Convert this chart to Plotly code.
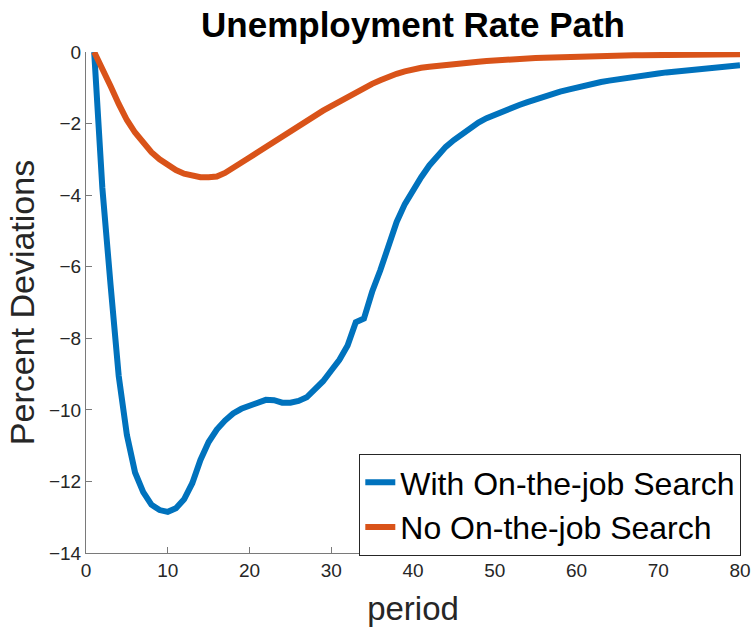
import plotly.graph_objects as go

period = list(range(1, 81))

with_ojs = [0.0, -3.8, -6.5, -9.05, -10.7, -11.75, -12.3, -12.65, -12.8, -12.85,
            -12.75, -12.5, -12.05, -11.4, -10.9, -10.55, -10.3, -10.1, -9.97, -9.9,
            -9.8, -9.72, -9.73, -9.8, -9.8, -9.75, -9.65, -9.45, -9.2, -8.9,
            -8.6, -8.2, -7.55, -7.45, -6.7, -6.1, -5.4, -4.75, -4.25, -3.85,
            -3.5, -3.17, -2.9, -2.65, -2.46, -2.28, -2.1, -1.97, -1.85, -1.75,
            -1.65, -1.56, -1.48, -1.4, -1.32, -1.25, -1.18, -1.11, -1.05, -0.99,
            -0.94, -0.88, -0.84, -0.8, -0.76, -0.72, -0.69, -0.66, -0.63, -0.6,
            -0.57, -0.55, -0.52, -0.5, -0.47, -0.45, -0.43, -0.41, -0.39, -0.37]

no_ojs = [0.0, -0.45, -0.95, -1.45, -1.9, -2.25, -2.55, -2.8, -3.0, -3.17,
          -3.3, -3.4, -3.46, -3.5, -3.5, -3.48, -3.38, -3.25, -3.1, -2.95,
          -2.8, -2.65, -2.5, -2.35, -2.2, -2.06, -1.92, -1.78, -1.64, -1.51,
          -1.38, -1.25, -1.12, -1.0, -0.89, -0.79, -0.69, -0.61, -0.54, -0.48,
          -0.44, -0.41, -0.38, -0.36, -0.34, -0.32, -0.29, -0.27, -0.25, -0.23,
          -0.21, -0.2, -0.19, -0.18, -0.17, -0.16, -0.15, -0.15, -0.14, -0.13,
          -0.13, -0.12, -0.11, -0.11, -0.1, -0.1, -0.09, -0.09, -0.09, -0.08,
          -0.08, -0.08, -0.07, -0.07, -0.07, -0.07, -0.06, -0.06, -0.06, -0.06]

x_ticks = [0, 10, 20, 30, 40, 50, 60, 70, 80]
y_ticks = [0, -2, -4, -6, -8, -10, -12, -14]

FONT = "Liberation Sans, Arial, Helvetica, sans-serif"
AXC = "#7a7a7a"
TXT = "#262626"

fig = go.Figure()
fig.add_trace(go.Scatter(x=period, y=with_ojs, mode="lines", name="With On-the-job Search",
                         line=dict(color="#0072BD", width=6)))
fig.add_trace(go.Scatter(x=period, y=no_ojs, mode="lines", name="No On-the-job Search",
                         line=dict(color="#D95319", width=6)))

fig.update_layout(
    width=753, height=627,
    margin=dict(l=86, r=13, t=52, b=74, autoexpand=False),
    paper_bgcolor="white", plot_bgcolor="white",
    font=dict(family=FONT, color=TXT),
    title=dict(text="<b>Unemployment Rate Path</b>", x=0.5, xref="paper",
               y=1 - 25 / 627, yref="container", xanchor="center", yanchor="middle",
               font=dict(size=35, color="black", family=FONT)),
    xaxis=dict(range=[0, 80], tickvals=x_ticks, ticks="inside", ticklen=6, tickcolor=AXC,
               showline=True, linecolor=AXC, linewidth=1, showgrid=False, zeroline=False,
               tickfont=dict(size=19, color=TXT), automargin=False,
               title=dict(text="period", font=dict(size=33, color=TXT), standoff=19)),
    yaxis=dict(range=[-14, 0], tickvals=y_ticks, ticks="inside", ticklen=6, tickcolor=AXC,
               showline=True, linecolor=AXC, linewidth=1, showgrid=False, zeroline=False,
               tickfont=dict(size=19, color=TXT), automargin=False,
               title=dict(text="Percent Deviations", font=dict(size=34, color=TXT), standoff=4)),
    legend=dict(x=1.002, y=-0.006, xanchor="right", yanchor="bottom",
                bgcolor="white", bordercolor="#262626", borderwidth=1,
                font=dict(size=32, color="black", family=FONT),
                itemwidth=30, tracegroupgap=0),
    showlegend=True,
)

fig.write_html("out.html", config={"displayModeBar": False},
               post_script="document.body.style.margin='0';document.body.style.overflow='hidden';")
